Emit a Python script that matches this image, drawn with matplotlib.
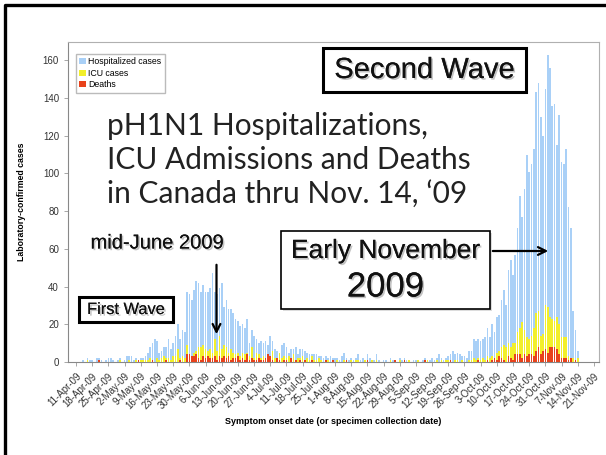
import matplotlib
matplotlib.use('Agg')
import matplotlib.pyplot as plt
import matplotlib.dates as mdates
import matplotlib.patheffects as pe
from matplotlib.patches import Rectangle
import pandas as pd

# daily counts from 12-Apr-09 to 14-Nov-09, one line per week
hospitalized = [
    0, 0, 1, 0, 2, 1, 1,
    0, 2, 2, 1, 0, 1, 2,
    2, 1, 0, 1, 2, 0, 1,
    3, 3, 3, 1, 2, 1, 2,
    2, 3, 5, 8, 10, 12, 11,
    5, 6, 8, 8, 12, 7, 10,
    14, 20, 12, 17, 16, 37, 36,
    33, 38, 43, 42, 37, 41, 37,
    37, 39, 47, 37, 36, 39, 42,
    29, 33, 28, 28, 26, 23, 22,
    19, 20, 18, 23, 10, 17, 14,
    12, 10, 11, 10, 11, 9, 14,
    11, 7, 6, 4, 9, 10, 8,
    5, 7, 7, 8, 4, 7, 7,
    6, 5, 4, 4, 4, 4, 3,
    3, 2, 3, 2, 3, 2, 2,
    2, 1, 3, 5, 2, 1, 2,
    1, 2, 4, 1, 2, 1, 4,
    2, 1, 1, 4, 1, 0, 1,
    1, 0, 2, 1, 1, 0, 2,
    1, 2, 1, 1, 0, 1, 1,
    1, 0, 1, 2, 1, 1, 2,
    1, 2, 4, 2, 1, 2, 3,
    4, 6, 4, 5, 4, 3, 3,
    2, 6, 6, 12, 11, 12, 11,
    12, 13, 18, 13, 20, 16, 24,
    25, 33, 38, 30, 49, 54, 46,
    57, 71, 88, 77, 92, 110, 101,
    105, 113, 143, 148, 130, 120, 145,
    163, 156, 136, 137, 115, 131, 106,
    105, 113, 82, 71, 27, 17, 6,
]
icu = [
    0, 0, 0, 0, 1, 0, 0,
    0, 0, 0, 0, 0, 0, 0,
    0, 0, 0, 0, 1, 0, 0,
    0, 1, 0, 0, 1, 0, 1,
    1, 1, 1, 2, 1, 0, 2,
    1, 2, 3, 2, 2, 1, 3,
    3, 7, 2, 3, 2, 9, 4,
    3, 5, 6, 8, 8, 9, 7,
    6, 7, 5, 12, 6, 14, 7,
    9, 8, 5, 7, 5, 4, 5,
    3, 5, 4, 5, 3, 8, 2,
    5, 4, 2, 3, 2, 4, 3,
    6, 2, 1, 5, 2, 3, 2,
    3, 2, 4, 1, 2, 2, 3,
    1, 2, 1, 3, 1, 1, 2,
    1, 0, 1, 1, 0, 1, 0,
    1, 0, 0, 1, 0, 0, 1,
    0, 1, 1, 0, 0, 1, 0,
    0, 1, 0, 1, 0, 0, 0,
    0, 0, 1, 0, 0, 0, 1,
    0, 0, 0, 1, 0, 0, 0,
    1, 0, 0, 0, 1, 0, 0,
    0, 1, 0, 1, 0, 1, 1,
    1, 0, 1, 1, 0, 1, 0,
    0, 1, 1, 2, 1, 2, 1,
    2, 1, 3, 2, 3, 2, 5,
    6, 8, 9, 8, 10, 8, 10,
    10, 16, 18, 21, 17, 13, 12,
    14, 18, 26, 27, 14, 15, 30,
    29, 24, 23, 22, 24, 20, 13,
    13, 13, 3, 2, 2, 1, 2,
]
deaths = [
    0, 0, 0, 0, 0, 0, 0,
    0, 0, 1, 0, 0, 0, 0,
    0, 0, 0, 0, 0, 0, 0,
    0, 0, 0, 0, 0, 1, 0,
    0, 0, 0, 0, 1, 0, 0,
    0, 0, 0, 1, 0, 0, 0,
    0, 0, 1, 0, 0, 4, 4,
    3, 3, 4, 2, 1, 3, 2,
    3, 2, 2, 3, 1, 3, 2,
    3, 2, 3, 1, 2, 2, 3,
    1, 2, 1, 4, 1, 2, 1,
    1, 2, 1, 1, 2, 4, 3,
    1, 0, 2, 1, 0, 1, 1,
    0, 2, 0, 1, 0, 1, 0,
    1, 0, 0, 1, 0, 0, 0,
    0, 0, 1, 0, 0, 1, 0,
    0, 0, 0, 0, 1, 0, 0,
    0, 0, 0, 0, 0, 0, 1,
    0, 0, 0, 0, 0, 0, 0,
    0, 0, 0, 0, 1, 0, 0,
    0, 1, 0, 0, 0, 0, 0,
    0, 0, 0, 1, 0, 0, 0,
    0, 0, 0, 0, 0, 0, 0,
    1, 0, 0, 0, 0, 0, 0,
    0, 0, 0, 0, 0, 1, 0,
    0, 0, 1, 0, 1, 2, 1,
    3, 2, 1, 0, 3, 2, 1,
    4, 4, 4, 2, 4, 3, 4,
    4, 3, 6, 8, 4, 6, 7,
    5, 8, 8, 8, 7, 4, 2,
    2, 2, 1, 2, 0, 1, 0,
]
start_day = '2009-04-12'
tick_dates = pd.date_range('2009-04-11', '2009-11-21', freq='7D')
tick_labels = [f"{d.day}-{d.strftime('%b')}-09" for d in tick_dates]

plt.rcParams['font.family'] = ['Liberation Sans', 'DejaVu Sans']

fig = plt.figure(figsize=(6.06, 4.55), dpi=100)
ax = fig.add_axes([68 / 606, 1 - 362 / 455, 531 / 606, 320.5 / 455])

days = mdates.date2num(pd.date_range(start_day, periods=len(hospitalized)))
ax.bar(days, hospitalized, width=0.72, color='#a9d0f7', zorder=2, label='Hospitalized cases')
ax.bar(days, icu, width=0.72, color='#f2ef2a', zorder=3, label='ICU cases')
ax.bar(days, deaths, width=0.72, color='#e8421b', zorder=4, label='Deaths')

tnum = mdates.date2num(tick_dates)
ax.set_xlim(tnum[0] - 3.5, tnum[-1] + 2.2)
ax.set_ylim(0, 170)
ax.set_yticks(range(0, 161, 20))
ax.set_xticks(tnum)
ax.set_xticklabels(tick_labels, rotation=45, ha='right', rotation_mode='anchor')
ax.tick_params(axis='both', colors='#333333', length=3, width=0.6)
ax.tick_params(axis='x', labelsize=7.0)
ax.tick_params(axis='y', labelsize=7)
ax.tick_params(axis='both', color='#999999')
for s in ax.spines.values():
    s.set_color('#b0b0b0')
    s.set_linewidth(0.8)
ax.spines['left'].set_color('#888888')
ax.spines['bottom'].set_color('#888888')
ax.set_ylabel('Laboratory-confirmed cases', fontsize=6.3, fontweight='bold', labelpad=12)
ax.set_xlabel('Symptom onset date (or specimen collection date)', fontsize=6.5,
              fontweight='bold', labelpad=4)
ax.legend(loc='upper left', bbox_to_anchor=(0.015, 0.962), borderaxespad=0, fontsize=6.3,
          frameon=True, fancybox=False, edgecolor='#aaaaaa', handlelength=0.7,
          handleheight=0.7, handletextpad=0.3, labelspacing=0.3, borderpad=0.4)

# overlay in pixel coordinates for the slide annotations
ov = fig.add_axes([0, 0, 1, 1], zorder=10)
ov.set_xlim(0, 606)
ov.set_ylim(455, 0)
ov.axis('off')
ov.patch.set_alpha(0)

# slide frame
ov.plot([4.5, 4.5, 606], [455, 4.5, 4.5], color='black', lw=2.4, solid_capstyle='butt')

shadow = [pe.withSimplePatchShadow(offset=(1.2, -1.2), shadow_rgbFace='#888888', alpha=0.5),
          pe.Normal()]


def box(x0, y0, x1, y1, lw):
    ov.add_patch(Rectangle((x0 + 2, y0 + 2), x1 - x0, y1 - y0, fc='#bbbbbb', ec='none', alpha=0.5))
    ov.add_patch(Rectangle((x0, y0), x1 - x0, y1 - y0, fc='white', ec='black', lw=lw))


box(323, 48, 526, 92, 2.2)
ov.text(424.5, 70, 'Second Wave', fontsize=21, ha='center', va='center', color='#111111',
        path_effects=shadow)

box(79, 297, 173, 322, 2.2)
ov.text(126, 309.5, 'First Wave', fontsize=11.8, ha='center', va='center', color='#111111',
        path_effects=shadow)

box(281, 231, 490, 309, 1.2)
ov.text(385.5, 251, 'Early November', fontsize=19, ha='center', va='center', color='#111111',
        path_effects=shadow)
ov.text(385.5, 287, '2009', fontsize=25, ha='center', va='center', color='#111111',
        path_effects=shadow)
ov.annotate('', xy=(551, 251), xytext=(490, 251),
            arrowprops=dict(arrowstyle='->', color='black', lw=1.6, mutation_scale=14))

ov.text(157, 243, 'mid-June 2009', fontsize=14.5, ha='center', va='center', color='#111111',
        path_effects=shadow)
ov.annotate('', xy=(216.5, 337), xytext=(216.5, 262),
            arrowprops=dict(arrowstyle='->', color='black', lw=1.6, mutation_scale=14))

ov.text(107, 160, 'pH1N1 Hospitalizations,\nICU Admissions and Deaths\nin Canada thru Nov. 14, \u201809',
        fontsize=21.5, family='Lato', ha='left', va='center', color='#222222', linespacing=1.25)

fig.savefig('out.png', dpi=100)
